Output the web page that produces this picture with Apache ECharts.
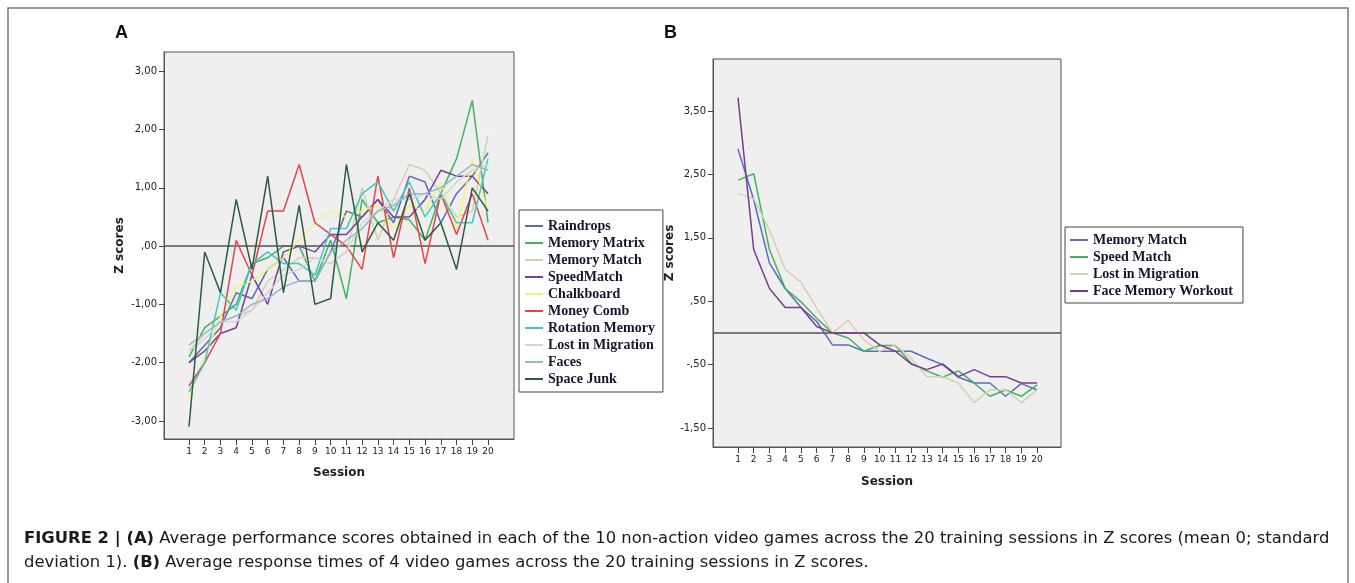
<!DOCTYPE html>
<html lang="en">
<head>
<meta charset="UTF-8">
<title>Figure 2</title>
<script src="https://cdn.jsdelivr.net/npm/echarts@6/dist/echarts.min.js"></script>
<style>
  html, body { margin: 0; padding: 0; background: #fff; }
  #chart { width: 1355px; height: 583px; }
</style>
</head>
<body>
<div id="chart"></div>
<script>
// sessions 1..20
var sessions = [1, 2, 3, 4, 5, 6, 7, 8, 9, 10, 11, 12, 13, 14, 15, 16, 17, 18, 19, 20];

// panel A: performance z scores, 10 games
var namesA = ['Raindrops', 'Memory Matrix', 'Memory Match', 'SpeedMatch', 'Chalkboard',
              'Money Comb', 'Rotation Memory', 'Lost in Migration', 'Faces', 'Space Junk'];
var colorsA = ['#5a6cb8', '#3fb45c', '#d8d0ac', '#7a3fa2', '#f6f27a',
               '#e8434c', '#42c6c2', '#d4d4d4', '#94b8cc', '#2d5b40'];
var raindrops      = [-2.0, -1.7, -1.4, -0.8, -0.9, -0.4, -0.2, -0.6, -0.6, -0.1, 0.6, 0.5, 0.8, 0.4, 1.2, 1.1, 0.4, 0.9, 1.2, 1.6];
var memoryMatrix   = [-1.9, -1.4, -1.2, -1.0, -0.3, -0.2, 0.0, 0.0, -0.6, 0.1, -0.9, 0.8, 0.4, 0.5, 0.45, 0.1, 0.9, 1.5, 2.5, 0.4];
var memoryMatchA   = [-1.8, -1.5, -1.3, -1.2, -1.1, -0.6, -0.4, -0.2, -0.2, -0.3, -0.1, 1.0, 0.1, 0.8, 1.4, 1.3, 0.9, 0.5, 0.6, 1.9];
var speedMatchA    = [-2.0, -1.8, -1.5, -1.4, -0.5, -1.0, -0.1, 0.0, -0.1, 0.2, 0.2, 0.5, 0.8, 0.5, 0.5, 0.8, 1.3, 1.2, 1.2, 0.9];
var chalkboard     = [-2.6, -1.9, -1.2, -0.7, -0.6, -0.4, -0.2, 0.1, 0.4, 0.6, 0.5, 0.6, 0.7, 0.3, 0.7, 0.6, 1.1, 0.3, 1.5, 0.6];
var moneyComb      = [-2.4, -2.0, -1.5, 0.1, -0.5, 0.6, 0.6, 1.4, 0.4, 0.2, 0.0, -0.4, 1.2, -0.2, 1.0, -0.3, 0.9, 0.2, 0.9, 0.1];
var rotationMemory = [-2.5, -2.0, -0.8, -1.1, -0.3, -0.1, -0.3, -0.3, -0.5, 0.3, 0.3, 0.9, 1.1, 0.6, 1.1, 0.5, 0.9, 0.4, 0.4, 1.5];
var lostMigrationA = [-1.8, -1.6, -1.3, -1.3, -1.1, -0.8, -0.5, -0.4, -0.2, -0.3, -0.1, 0.4, 0.6, 0.8, 0.8, 0.9, 0.8, 1.1, 1.3, 1.4];
var faces          = [-1.7, -1.5, -1.3, -1.2, -1.0, -0.9, -0.7, -0.6, -0.6, -0.1, 0.1, 0.3, 0.6, 0.7, 0.9, 0.9, 1.0, 1.2, 1.4, 1.3];
var spaceJunk      = [-3.1, -0.1, -0.8, 0.8, -0.4, 1.2, -0.8, 0.7, -1.0, -0.9, 1.4, -0.1, 0.4, 0.1, 0.9, 0.1, 0.4, -0.4, 1.0, 0.6];
var valuesA = [raindrops, memoryMatrix, memoryMatchA, speedMatchA, chalkboard,
               moneyComb, rotationMemory, lostMigrationA, faces, spaceJunk];
var ticksA = [-3, -2, -1, 0, 1, 2, 3];

// panel B: response time z scores, 4 games
var namesB = ['Memory Match', 'Speed Match', 'Lost in Migration', 'Face Memory Workout'];
var colorsB = ['#5a6cc0', '#3fb45c', '#d8d0aa', '#7d3a8c'];
var memoryMatchB   = [2.9, 2.1, 1.1, 0.7, 0.4, 0.18, -0.19, -0.19, -0.29, -0.29, -0.29, -0.29, -0.4, -0.5, -0.7, -0.79, -0.79, -1.0, -0.8, -0.9];
var speedMatchB    = [2.41, 2.51, 1.31, 0.7, 0.49, 0.23, 0.0, -0.08, -0.29, -0.2, -0.2, -0.48, -0.6, -0.7, -0.6, -0.79, -1.0, -0.9, -1.0, -0.82];
var lostMigrationB = [2.2, 2.12, 1.62, 1.0, 0.8, 0.39, 0.0, 0.2, -0.11, -0.29, -0.19, -0.4, -0.69, -0.69, -0.79, -1.1, -0.9, -0.9, -1.1, -0.9];
var faceMemory     = [3.71, 1.31, 0.7, 0.4, 0.4, 0.1, 0.0, 0.0, 0.0, -0.19, -0.29, -0.49, -0.58, -0.49, -0.69, -0.58, -0.69, -0.69, -0.79, -0.79];
var valuesB = [memoryMatchB, speedMatchB, lostMigrationB, faceMemory];
var ticksB = [-1.5, -0.5, 0.5, 1.5, 2.5, 3.5];

// SPSS style numbers: ,50  -1,50  3,00
function spss(v) {
    var s = Math.abs(v).toFixed(2).replace('.', ',');
    if (s.indexOf('0,') === 0) s = s.substring(1);
    return (v < 0 ? '-' : '') + s;
}

function pairs(vals) {
    return sessions.map(function (s, i) { return [s, vals[i]]; });
}

var zeroLine = {
    silent: true, symbol: 'none', label: { show: false },
    lineStyle: { color: '#555', width: 1.5, type: 'solid' },
    data: [{ yAxis: 0 }]
};

function xAxisFor(idx, max, gap) {
    return {
        gridIndex: idx, type: 'value', min: -0.588, max: max,
        name: 'Session', nameLocation: 'middle', nameGap: gap,
        nameTextStyle: { fontFamily: 'DejaVu Sans', fontWeight: 'bold', fontSize: 12, color: '#222' },
        axisLine: { show: true, onZero: false, lineStyle: { color: '#555', width: 1 } },
        axisTick: { show: true, length: 6, customValues: sessions, lineStyle: { color: '#444' } },
        axisLabel: { customValues: sessions, fontFamily: 'DejaVu Sans', fontSize: 9, margin: 8, color: '#222' },
        splitLine: { show: false }
    };
}

function yAxisFor(idx, min, max, ticks, gap) {
    return {
        gridIndex: idx, type: 'value', min: min, max: max,
        name: 'Z scores', nameLocation: 'middle', nameGap: gap,
        nameTextStyle: { fontFamily: 'DejaVu Sans', fontWeight: 'bold', fontSize: 12, color: '#222' },
        axisLine: { show: true, onZero: false, lineStyle: { color: '#555', width: 1 } },
        axisTick: { show: true, length: 5, customValues: ticks, lineStyle: { color: '#444' } },
        axisLabel: { customValues: ticks, formatter: spss, fontFamily: 'DejaVu Sans', fontSize: 10, margin: 7, color: '#222' },
        splitLine: { show: false }
    };
}

var series = [];
namesA.forEach(function (n, i) {
    var s = {
        name: n, type: 'line', xAxisIndex: 0, yAxisIndex: 0,
        data: pairs(valuesA[i]), symbol: 'none', z: 3 + i,
        lineStyle: { color: colorsA[i], width: 1.5 }, itemStyle: { color: colorsA[i] }
    };
    if (i === 0) s.markLine = zeroLine;
    series.push(s);
});
// panel B names get a prefix so they don't clash with panel A in the legend
namesB.forEach(function (n, i) {
    var s = {
        name: 'B_' + n, type: 'line', xAxisIndex: 1, yAxisIndex: 1,
        data: pairs(valuesB[i]), symbol: 'none', z: 3 + i,
        lineStyle: { color: colorsB[i], width: 1.5 }, itemStyle: { color: colorsB[i] }
    };
    if (i === 0) s.markLine = zeroLine;
    series.push(s);
});

var legendText = {
    fontFamily: 'Liberation Serif', fontWeight: 'bold', fontSize: 14,
    lineHeight: 14, color: '#15152e'
};

var option = {
    animation: false,
    backgroundColor: '#fff',
    grid: [
        { left: 164, top: 52, width: 350, height: 387, show: true,
          backgroundColor: '#efefef', borderColor: '#555', borderWidth: 1 },
        { left: 713, top: 59, width: 348, height: 388, show: true,
          backgroundColor: '#efefef', borderColor: '#555', borderWidth: 1 }
    ],
    xAxis: [xAxisFor(0, 21.65, 28), xAxisFor(1, 21.52, 29)],
    yAxis: [yAxisFor(0, -3.31, 3.33, ticksA, 38), yAxisFor(1, -1.80, 4.32, ticksB, 30)],
    legend: [
        { data: namesA, orient: 'vertical', left: 519, top: 210,
          padding: [9, 8, 6, 6], itemGap: 3, itemWidth: 18, itemHeight: 2, icon: 'rect',
          backgroundColor: '#fff', borderColor: '#444', borderWidth: 1,
          textStyle: legendText, selectedMode: false },
        { data: namesB.map(function (n) { return 'B_' + n; }), orient: 'vertical', left: 1065, top: 227,
          padding: [6, 10, 5, 5], itemGap: 3, itemWidth: 18, itemHeight: 2, icon: 'rect',
          backgroundColor: '#fff', borderColor: '#444', borderWidth: 1,
          formatter: function (n) { return n.replace('B_', ''); },
          textStyle: legendText, selectedMode: false }
    ],
    graphic: [
        { type: 'rect', shape: { x: 8, y: 8, width: 1340, height: 620 }, silent: true,
          style: { fill: 'none', stroke: '#7a7a7a', lineWidth: 1.5 } },
        { type: 'text', left: 115, top: 24, silent: true,
          style: { text: 'A', font: 'bold 18px "Liberation Sans"', fill: '#111' } },
        { type: 'text', left: 664, top: 24, silent: true,
          style: { text: 'B', font: 'bold 18px "Liberation Sans"', fill: '#111' } },
        { type: 'text', left: 24, top: 531, silent: true,
          style: {
              text: '{b|FIGURE 2 | (A)} Average performance scores obtained in each of the 10 non-action video games across the 20 training sessions in Z scores (mean 0; standard',
              font: '16.4px "DejaVu Sans"', fill: '#1a1a1a',
              rich: { b: { fontWeight: 'bold', fontSize: 16.4, fontFamily: 'DejaVu Sans', fill: '#1a1a1a' } }
          } },
        { type: 'text', left: 24, top: 555, silent: true,
          style: {
              text: 'deviation 1). {b|(B)} Average response times of 4 video games across the 20 training sessions in Z scores.',
              font: '16.4px "DejaVu Sans"', fill: '#1a1a1a',
              rich: { b: { fontWeight: 'bold', fontSize: 16.4, fontFamily: 'DejaVu Sans', fill: '#1a1a1a' } }
          } }
    ],
    series: series
};

var myChart = echarts.init(document.getElementById('chart'));
myChart.setOption(option);
</script>
</body>
</html>
